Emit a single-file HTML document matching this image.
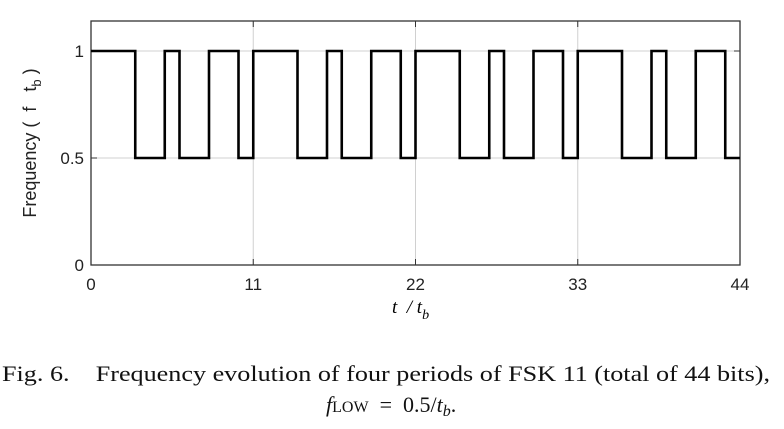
<!DOCTYPE html>
<html><head><style>body{margin:0;background:#fff;width:784px;height:424px;overflow:hidden}</style></head>
<body>
<svg width="784" height="424" xmlns="http://www.w3.org/2000/svg">
<g stroke="#d0d0d0" stroke-width="1">
<line x1="253.25" y1="21" x2="253.25" y2="265"/>
<line x1="415.5" y1="21" x2="415.5" y2="265"/>
<line x1="577.75" y1="21" x2="577.75" y2="265"/>
<line x1="91" y1="51" x2="740" y2="51"/>
<line x1="91" y1="158" x2="740" y2="158"/>
</g>
<rect x="91" y="21" width="649" height="244" fill="none" stroke="#333" stroke-width="1.3"/>
<g stroke="#333" stroke-width="1">
<line x1="253.25" y1="265" x2="253.25" y2="259"/><line x1="415.5" y1="265" x2="415.5" y2="259"/><line x1="577.75" y1="265" x2="577.75" y2="259"/>
<line x1="253.25" y1="21" x2="253.25" y2="27"/><line x1="415.5" y1="21" x2="415.5" y2="27"/><line x1="577.75" y1="21" x2="577.75" y2="27"/>
<line x1="91" y1="51" x2="97" y2="51"/><line x1="91" y1="158" x2="97" y2="158"/>
<line x1="740" y1="51" x2="734" y2="51"/><line x1="740" y1="158" x2="734" y2="158"/>
</g>
<path fill="none" stroke="#000" stroke-width="2.6" d="M91,51 H135.25 V158 H164.75 V51 H179.5 V158 H209 V51 H238.5 V158 H253.25 V51 H297.5 V158 H327 V51 H341.75 V158 H371.25 V51 H400.75 V158 H415.5 V51 H459.75 V158 H489.25 V51 H504 V158 H533.5 V51 H563 V158 H577.75 V51 H622 V158 H651.5 V51 H666.25 V158 H695.75 V51 H725.25 V158 H740"/>
<g font-family="Liberation Sans, sans-serif" font-size="17" fill="#222">
<text x="84" y="57" text-anchor="end">1</text>
<text x="84" y="164" text-anchor="end">0.5</text>
<text x="84" y="271" text-anchor="end">0</text>
<text x="91" y="290" text-anchor="middle">0</text>
<text x="253.25" y="290" text-anchor="middle">11</text>
<text x="415.5" y="290" text-anchor="middle">22</text>
<text x="577.75" y="290" text-anchor="middle">33</text>
<text x="740" y="290" text-anchor="middle">44</text>
<text transform="translate(36,143) rotate(-90)" text-anchor="middle" font-size="18" xml:space="preserve">Frequency (  f   t<tspan font-size="13" dy="5">b</tspan><tspan dy="-5"> )</tspan></text>
</g>
<text x="392" y="313" font-family="Liberation Serif, serif" font-style="italic" font-size="19" xml:space="preserve">t  / t<tspan font-size="14" dy="6">b</tspan></text>
<g font-family="Liberation Serif, serif" font-size="22" fill="#111">
<text x="2" y="381" textLength="768" lengthAdjust="spacingAndGlyphs" xml:space="preserve">Fig. 6.    Frequency evolution of four periods of FSK 11 (total of 44 bits),</text>
<text x="326" y="412" xml:space="preserve"><tspan font-style="italic">f</tspan><tspan font-size="16">LOW</tspan>  =  0.5/<tspan font-style="italic">t<tspan font-size="16" dy="4">b</tspan></tspan><tspan dy="-4">.</tspan></text>
</g>
</svg>
</body></html>
